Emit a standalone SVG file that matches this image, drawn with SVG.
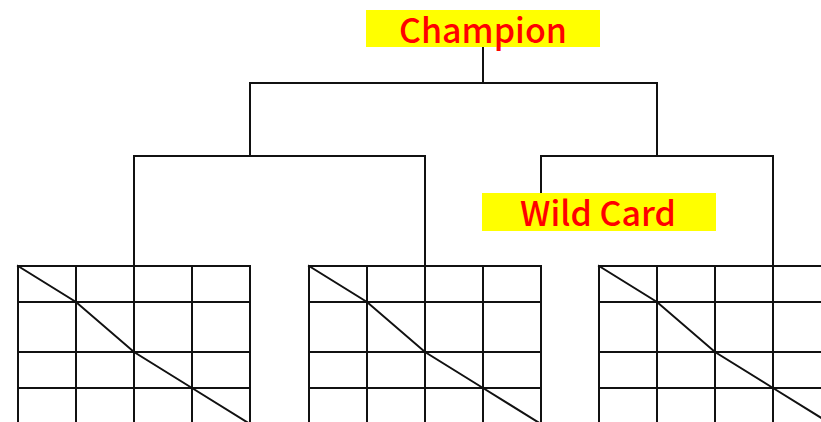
<svg xmlns="http://www.w3.org/2000/svg" width="821" height="422" viewBox="0 0 821 422">
<style>
.ln{stroke:#111;stroke-width:2;fill:none;stroke-linecap:square}
.lbl{fill:#ff0000;font-family:"Noto Sans CJK JP","Noto Sans",sans-serif;font-size:34px;font-weight:500;text-anchor:middle}
.box{fill:#ffff00}
</style>
<defs>
<g id="grid">
<path class="ln" d="M0 0H232M0 36H232M0 86H232M0 122H232M0 0V440M58 0V440M116 0V440M174 0V440M232 0V440"/>
<path class="ln" d="M0 0L58 36L116 86L174 122L232 158"/>
</g>
</defs>
<g id="connectors">
<path class="ln" d="M483 47V83M250 83H657M250 83V156M657 83V156M134 156H425M134 156V266M425 156V266M541 156H773M541 156V193M773 156V266"/>
</g>
<g id="grid1"><use href="#grid" x="18" y="266"/></g>
<g id="grid2"><use href="#grid" x="309" y="266"/></g>
<g id="grid3"><use href="#grid" x="599" y="266"/></g>
<g id="champion">
<rect class="box" x="366" y="10" width="234" height="37"/>
<text class="lbl" x="483" y="43">Champion</text>
</g>
<g id="wildcard">
<rect class="box" x="482" y="193" width="234" height="38"/>
<text class="lbl" x="598" y="226">Wild Card</text>
</g>
</svg>
